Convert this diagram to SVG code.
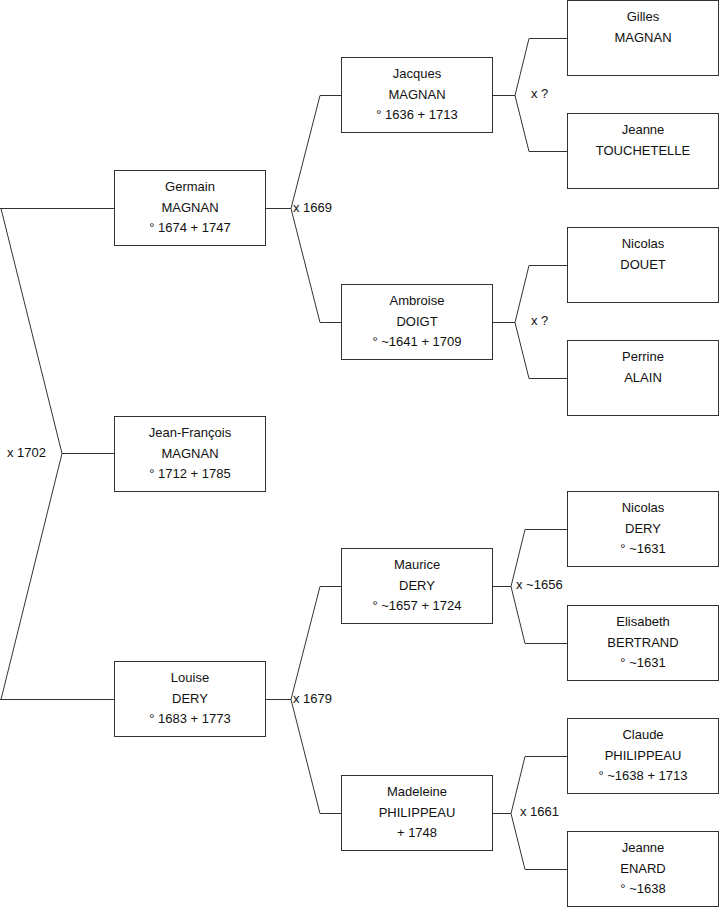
<svg xmlns="http://www.w3.org/2000/svg" width="719" height="908" viewBox="0 0 719 908">
<style>
rect.box{fill:#fff;stroke:#333;stroke-width:1}
text{font-family:"Liberation Sans",Arial,sans-serif;font-size:13px;fill:#111}
text.n{text-anchor:middle}
.conn path{fill:none;stroke:#333;stroke-width:1}
</style>
<rect width="719" height="908" fill="#fff"/>
<g class="conn" id="connectors">
<path d="M0,208.5H114.5M1,208.5L62,453.5L1,699.5M62,453.5H114.5M0,699.5H114.5"/>
<path d="M265,208.5H291L320,95.5H341M291,208.5L320,322.5H341"/>
<path d="M265,699.5H291L320,586.5H341M291,699.5L320,813.5H341"/>
<path d="M492,95.5H515L529,38.5H567M515,95.5L529,151.5H567"/>
<path d="M492,322.5H515L529,265.5H567M515,322.5L529,378.5H567"/>
<path d="M492,586.5H511L525,529.5H567M511,586.5L525,643.5H567"/>
<path d="M492,813.5H511L525,756.5H567M511,813.5L525,869.5H567"/>
<text x="7" y="456.5">x 1702</text>
<text x="293" y="212">x 1669</text>
<text x="293" y="703">x 1679</text>
<text x="531" y="98">x ?</text>
<text x="531" y="325">x ?</text>
<text x="516" y="589">x ~1656</text>
<text x="520" y="816">x 1661</text>
</g>
<g id="germain"><rect class="box" x="114.5" y="170.5" width="151" height="75"/><text class="n" x="190" y="191">Germain</text><text class="n" x="190" y="211.5">MAGNAN</text><text class="n" x="190" y="231.5">° 1674 + 1747</text></g>
<g id="jeanfrancois"><rect class="box" x="114.5" y="416.5" width="151" height="75"/><text class="n" x="190" y="437">Jean-François</text><text class="n" x="190" y="457.5">MAGNAN</text><text class="n" x="190" y="477.5">° 1712 + 1785</text></g>
<g id="louise"><rect class="box" x="114.5" y="661.5" width="151" height="75"/><text class="n" x="190" y="682">Louise</text><text class="n" x="190" y="702.5">DERY</text><text class="n" x="190" y="722.5">° 1683 + 1773</text></g>
<g id="jacques"><rect class="box" x="341.5" y="57.5" width="151" height="75"/><text class="n" x="417" y="78">Jacques</text><text class="n" x="417" y="98.5">MAGNAN</text><text class="n" x="417" y="118.5">° 1636 + 1713</text></g>
<g id="ambroise"><rect class="box" x="341.5" y="284.5" width="151" height="75"/><text class="n" x="417" y="305">Ambroise</text><text class="n" x="417" y="325.5">DOIGT</text><text class="n" x="417" y="345.5">° ~1641 + 1709</text></g>
<g id="maurice"><rect class="box" x="341.5" y="548.5" width="151" height="75"/><text class="n" x="417" y="569">Maurice</text><text class="n" x="417" y="589.5">DERY</text><text class="n" x="417" y="609.5">° ~1657 + 1724</text></g>
<g id="madeleine"><rect class="box" x="341.5" y="775.5" width="151" height="75"/><text class="n" x="417" y="796">Madeleine</text><text class="n" x="417" y="816.5">PHILIPPEAU</text><text class="n" x="417" y="836.5">+ 1748</text></g>
<g id="gilles"><rect class="box" x="567.5" y="0.5" width="151" height="75"/><text class="n" x="643" y="21">Gilles</text><text class="n" x="643" y="41.5">MAGNAN</text></g>
<g id="jeanne-touchetelle"><rect class="box" x="567.5" y="113.5" width="151" height="75"/><text class="n" x="643" y="134">Jeanne</text><text class="n" x="643" y="154.5">TOUCHETELLE</text></g>
<g id="nicolas-douet"><rect class="box" x="567.5" y="227.5" width="151" height="75"/><text class="n" x="643" y="248">Nicolas</text><text class="n" x="643" y="268.5">DOUET</text></g>
<g id="perrine"><rect class="box" x="567.5" y="340.5" width="151" height="75"/><text class="n" x="643" y="361">Perrine</text><text class="n" x="643" y="381.5">ALAIN</text></g>
<g id="nicolas-dery"><rect class="box" x="567.5" y="491.5" width="151" height="75"/><text class="n" x="643" y="512">Nicolas</text><text class="n" x="643" y="532.5">DERY</text><text class="n" x="643" y="552.5">° ~1631</text></g>
<g id="elisabeth"><rect class="box" x="567.5" y="605.5" width="151" height="75"/><text class="n" x="643" y="626">Elisabeth</text><text class="n" x="643" y="646.5">BERTRAND</text><text class="n" x="643" y="666.5">° ~1631</text></g>
<g id="claude"><rect class="box" x="567.5" y="718.5" width="151" height="75"/><text class="n" x="643" y="739">Claude</text><text class="n" x="643" y="759.5">PHILIPPEAU</text><text class="n" x="643" y="779.5">° ~1638 + 1713</text></g>
<g id="jeanne-enard"><rect class="box" x="567.5" y="831.5" width="151" height="75"/><text class="n" x="643" y="852">Jeanne</text><text class="n" x="643" y="872.5">ENARD</text><text class="n" x="643" y="892.5">° ~1638</text></g>
</svg>
